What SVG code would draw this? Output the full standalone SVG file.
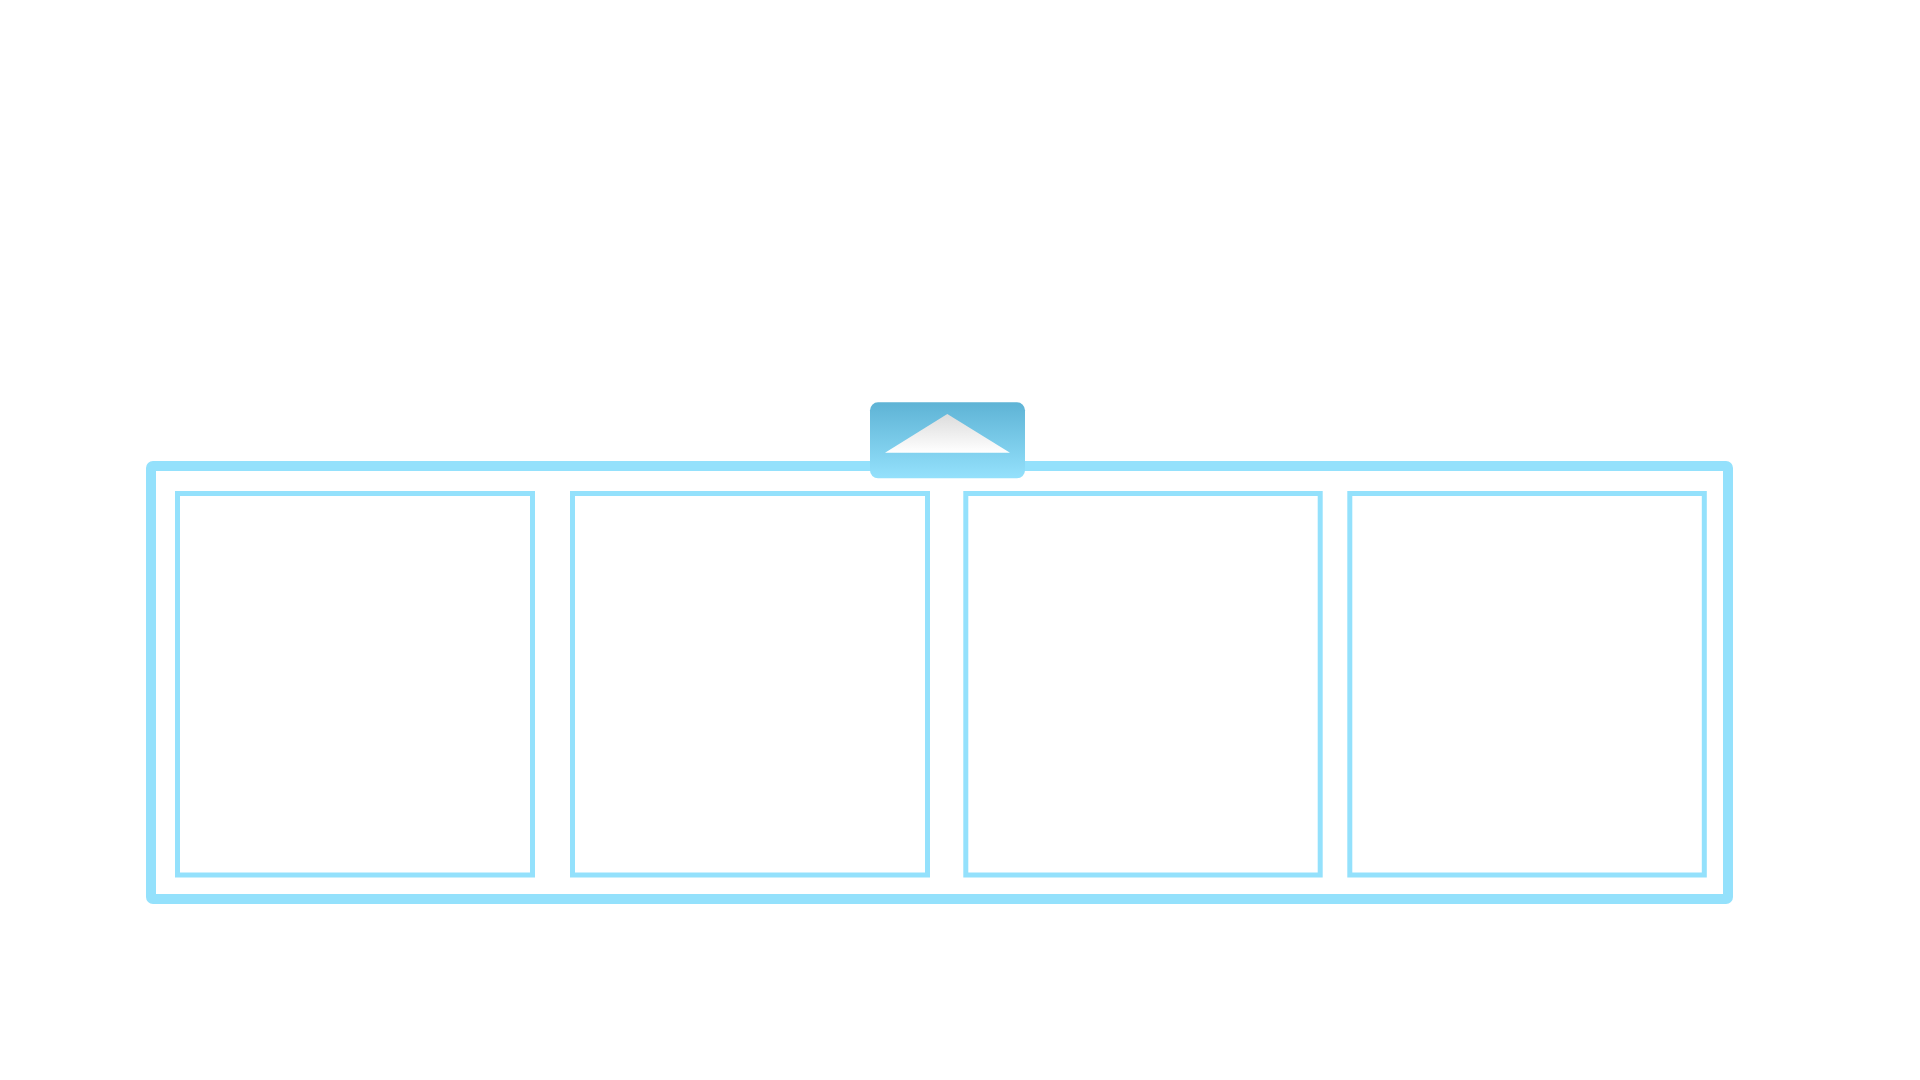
<svg xmlns="http://www.w3.org/2000/svg" width="1920" height="1080" viewBox="0 0 1920 1080">
  <defs>
    <linearGradient id="tabGrad" x1="0" y1="0" x2="0" y2="1">
      <stop offset="0" stop-color="#5eb3d5"/>
      <stop offset="1" stop-color="#94e1fc"/>
    </linearGradient>
    <linearGradient id="triGrad" x1="0" y1="0" x2="0" y2="1">
      <stop offset="0" stop-color="#dcdcdc"/>
      <stop offset="1" stop-color="#ffffff"/>
    </linearGradient>
  </defs>
  <style>
    .outer { fill: none; stroke: #94e1fc; stroke-width: 10; }
    .panel { fill: #ffffff; stroke: #94e1fc; stroke-width: 5; }
  </style>
  <rect x="0" y="0" width="1920" height="1080" fill="#ffffff"/>
  <g id="container">
    <rect class="outer" x="151" y="466" width="1577" height="433" rx="2"/>
  </g>
  <g id="panel1">
    <rect class="panel" x="177.5" y="493.5" width="355" height="381.5"/>
  </g>
  <g id="panel2">
    <rect class="panel" x="572.5" y="493.5" width="355" height="381.5"/>
  </g>
  <g id="panel3">
    <rect class="panel" x="965.8" y="493.5" width="354.4" height="381.5"/>
  </g>
  <g id="panel4">
    <rect class="panel" x="1349.8" y="493.5" width="354.5" height="381.5"/>
  </g>
  <g id="tab">
    <rect x="870" y="402.3" width="155" height="76" rx="8" fill="url(#tabGrad)"/>
    <polygon points="947.3,414 1010,452.7 885,452.7" fill="url(#triGrad)"/>
  </g>
  <g id="connectors"></g>
</svg>
